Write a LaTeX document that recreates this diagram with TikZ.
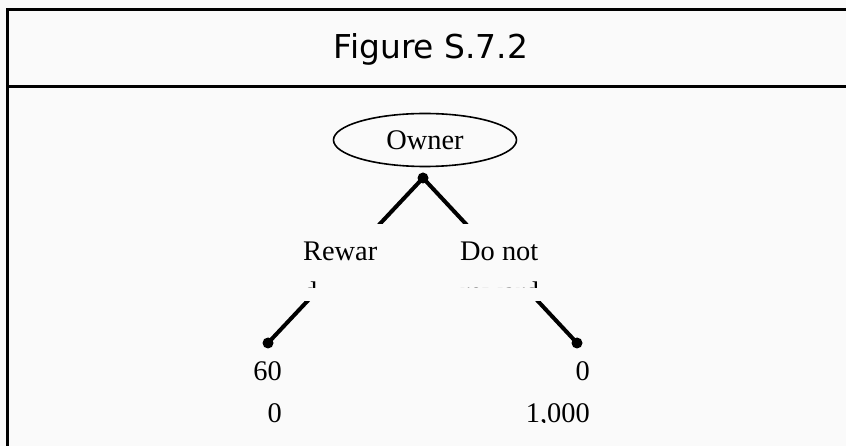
\documentclass[tikz,border=0pt]{standalone}
\usepackage{fontspec}
\setmainfont{Liberation Serif}
\newfontfamily\titlefont{DejaVu Sans}
\usetikzlibrary{shapes.geometric, positioning, calc}
\definecolor{pagebg}{RGB}{250,250,250}
\tikzset{
  frameline/.style={line width=3bp, black, line join=miter},
  decnode/.style={
    ellipse, draw=black, line width=1.6bp,
    minimum width=183bp, minimum height=53bp,
    inner sep=0pt,
    font=\fontsize{28.5}{42}\selectfont
  },
  branch/.style={line width=4bp, black},
  dotnode/.style={circle, fill=black, inner sep=0pt, minimum size=11bp},
  labelmask/.style={fill=pagebg, draw=none, inner sep=0pt, anchor=north west},
  movelabel/.style={font=\fontsize{28.5}{42}\selectfont, align=left, inner sep=0pt, anchor=base west},
  payoff/.style={font=\fontsize{28.5}{42}\selectfont, align=right, inner sep=0pt, anchor=base east}
}

\begin{document}
\begin{tikzpicture}[x=1bp, y=-1bp]

  \useasboundingbox[fill=pagebg] (0,0) rectangle (846,446);

  % Frame and title band
  \draw[frameline] (846,10) -- (7.5,10) -- (7.5,446);
  \draw[frameline] (7.5,87) -- (846,87);
  \node[font=\titlefont\fontsize{33}{38}\selectfont, anchor=base] (title) at (431,59) {Figure S.7.2};

  % Game tree
  \node[decnode] (owner) at (425,140) {Owner};
  \node[dotnode] (root) at (423,178) {};
  \node[dotnode] (leafL) at (268,343) {};
  \node[dotnode] (leafR) at (577,343) {};
  \draw[branch] (root.center) -- (leafL.center);
  \draw[branch] (root.center) -- (leafR.center);

  % Move labels (boxes hide the middle of the branches)
  \node[labelmask, minimum width=96bp, minimum height=77bp] (maskL) at (296,224) {};
  \node[labelmask, minimum width=97bp, minimum height=77bp] (maskR) at (455,224) {};
  \begin{scope}
    \clip (maskL.north west) rectangle (552,288);
    \node[movelabel] (rwd) at (303,302) {Rewar\\d};
    \node[movelabel] (norwd) at (460,302) {Do not\\reward};
  \end{scope}

  % Payoffs
  \begin{scope}
    \clip (0,300) rectangle (846,422);
    \node[payoff] (payL) at (282,422) {60\\0};
    \node[payoff] (payR) at (590,422) {0\\1,000};
  \end{scope}

\end{tikzpicture}
\end{document}
